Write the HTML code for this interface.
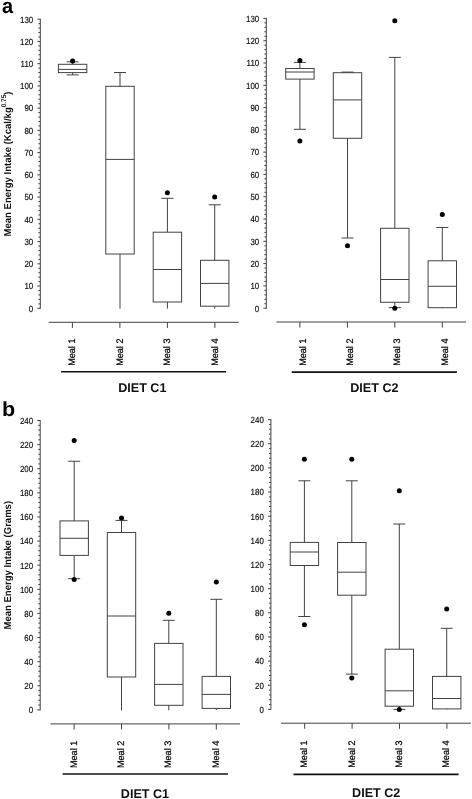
<!DOCTYPE html>
<html><head><meta charset="utf-8"><style>
html,body{margin:0;padding:0;background:#fff;}
body{width:472px;height:799px;overflow:hidden;}
svg{display:block;font-family:"Liberation Sans", sans-serif;will-change:transform;text-rendering:geometricPrecision;}
line,rect{stroke:#424242;stroke-width:1.0;fill:none;}
rect{fill:none;}
circle{fill:#000;stroke:none;}
.brk{stroke:#111;stroke-width:1.6;}
text{fill:#111;}
.tl{font-size:8.8px;text-anchor:end;fill:#111;stroke:#111;stroke-width:0.18px;}
.ml{font-size:9.5px;fill:#000;stroke:#000;stroke-width:0.22px;}
.diet{font-size:12.6px;font-weight:bold;}
.pl{font-size:20px;font-weight:bold;fill:#000;}
.yt{font-size:10px;font-weight:bold;}
.sup{font-size:6.8px;}
</style></head><body>
<svg width="472" height="799" viewBox="0 0 472 799">
<line x1="40.3" y1="18.7" x2="40.3" y2="308.8"/>
<line x1="37.4" y1="308.3" x2="40.3" y2="308.3"/>
<text class="tl" transform="translate(33.2,311.6) scale(0.9,1)">0</text>
<line x1="38.4" y1="303.85" x2="40.3" y2="303.85"/>
<line x1="38.4" y1="299.4" x2="40.3" y2="299.4"/>
<line x1="38.4" y1="294.96" x2="40.3" y2="294.96"/>
<line x1="38.4" y1="290.51" x2="40.3" y2="290.51"/>
<line x1="37.4" y1="286.06" x2="40.3" y2="286.06"/>
<text class="tl" transform="translate(33.2,289.36) scale(0.9,1)">10</text>
<line x1="38.4" y1="281.61" x2="40.3" y2="281.61"/>
<line x1="38.4" y1="277.17" x2="40.3" y2="277.17"/>
<line x1="38.4" y1="272.72" x2="40.3" y2="272.72"/>
<line x1="38.4" y1="268.27" x2="40.3" y2="268.27"/>
<line x1="37.4" y1="263.82" x2="40.3" y2="263.82"/>
<text class="tl" transform="translate(33.2,267.12) scale(0.9,1)">20</text>
<line x1="38.4" y1="259.38" x2="40.3" y2="259.38"/>
<line x1="38.4" y1="254.93" x2="40.3" y2="254.93"/>
<line x1="38.4" y1="250.48" x2="40.3" y2="250.48"/>
<line x1="38.4" y1="246.03" x2="40.3" y2="246.03"/>
<line x1="37.4" y1="241.58" x2="40.3" y2="241.58"/>
<text class="tl" transform="translate(33.2,244.88) scale(0.9,1)">30</text>
<line x1="38.4" y1="237.14" x2="40.3" y2="237.14"/>
<line x1="38.4" y1="232.69" x2="40.3" y2="232.69"/>
<line x1="38.4" y1="228.24" x2="40.3" y2="228.24"/>
<line x1="38.4" y1="223.79" x2="40.3" y2="223.79"/>
<line x1="37.4" y1="219.35" x2="40.3" y2="219.35"/>
<text class="tl" transform="translate(33.2,222.65) scale(0.9,1)">40</text>
<line x1="38.4" y1="214.9" x2="40.3" y2="214.9"/>
<line x1="38.4" y1="210.45" x2="40.3" y2="210.45"/>
<line x1="38.4" y1="206" x2="40.3" y2="206"/>
<line x1="38.4" y1="201.56" x2="40.3" y2="201.56"/>
<line x1="37.4" y1="197.11" x2="40.3" y2="197.11"/>
<text class="tl" transform="translate(33.2,200.41) scale(0.9,1)">50</text>
<line x1="38.4" y1="192.66" x2="40.3" y2="192.66"/>
<line x1="38.4" y1="188.21" x2="40.3" y2="188.21"/>
<line x1="38.4" y1="183.76" x2="40.3" y2="183.76"/>
<line x1="38.4" y1="179.32" x2="40.3" y2="179.32"/>
<line x1="37.4" y1="174.87" x2="40.3" y2="174.87"/>
<text class="tl" transform="translate(33.2,178.17) scale(0.9,1)">60</text>
<line x1="38.4" y1="170.42" x2="40.3" y2="170.42"/>
<line x1="38.4" y1="165.97" x2="40.3" y2="165.97"/>
<line x1="38.4" y1="161.53" x2="40.3" y2="161.53"/>
<line x1="38.4" y1="157.08" x2="40.3" y2="157.08"/>
<line x1="37.4" y1="152.63" x2="40.3" y2="152.63"/>
<text class="tl" transform="translate(33.2,155.93) scale(0.9,1)">70</text>
<line x1="38.4" y1="148.18" x2="40.3" y2="148.18"/>
<line x1="38.4" y1="143.74" x2="40.3" y2="143.74"/>
<line x1="38.4" y1="139.29" x2="40.3" y2="139.29"/>
<line x1="38.4" y1="134.84" x2="40.3" y2="134.84"/>
<line x1="37.4" y1="130.39" x2="40.3" y2="130.39"/>
<text class="tl" transform="translate(33.2,133.69) scale(0.9,1)">80</text>
<line x1="38.4" y1="125.94" x2="40.3" y2="125.94"/>
<line x1="38.4" y1="121.5" x2="40.3" y2="121.5"/>
<line x1="38.4" y1="117.05" x2="40.3" y2="117.05"/>
<line x1="38.4" y1="112.6" x2="40.3" y2="112.6"/>
<line x1="37.4" y1="108.15" x2="40.3" y2="108.15"/>
<text class="tl" transform="translate(33.2,111.45) scale(0.9,1)">90</text>
<line x1="38.4" y1="103.71" x2="40.3" y2="103.71"/>
<line x1="38.4" y1="99.26" x2="40.3" y2="99.26"/>
<line x1="38.4" y1="94.81" x2="40.3" y2="94.81"/>
<line x1="38.4" y1="90.36" x2="40.3" y2="90.36"/>
<line x1="37.4" y1="85.92" x2="40.3" y2="85.92"/>
<text class="tl" transform="translate(33.2,89.22) scale(0.9,1)">100</text>
<line x1="38.4" y1="81.47" x2="40.3" y2="81.47"/>
<line x1="38.4" y1="77.02" x2="40.3" y2="77.02"/>
<line x1="38.4" y1="72.57" x2="40.3" y2="72.57"/>
<line x1="38.4" y1="68.12" x2="40.3" y2="68.12"/>
<line x1="37.4" y1="63.68" x2="40.3" y2="63.68"/>
<text class="tl" transform="translate(33.2,66.98) scale(0.9,1)">110</text>
<line x1="38.4" y1="59.23" x2="40.3" y2="59.23"/>
<line x1="38.4" y1="54.78" x2="40.3" y2="54.78"/>
<line x1="38.4" y1="50.33" x2="40.3" y2="50.33"/>
<line x1="38.4" y1="45.89" x2="40.3" y2="45.89"/>
<line x1="37.4" y1="41.44" x2="40.3" y2="41.44"/>
<text class="tl" transform="translate(33.2,44.74) scale(0.9,1)">120</text>
<line x1="38.4" y1="36.99" x2="40.3" y2="36.99"/>
<line x1="38.4" y1="32.54" x2="40.3" y2="32.54"/>
<line x1="38.4" y1="28.1" x2="40.3" y2="28.1"/>
<line x1="38.4" y1="23.65" x2="40.3" y2="23.65"/>
<line x1="37.4" y1="19.2" x2="40.3" y2="19.2"/>
<text class="tl" transform="translate(33.2,22.5) scale(0.9,1)">130</text>
<line x1="48.6" y1="322.3" x2="238.7" y2="322.3"/>
<line x1="72.4" y1="322.3" x2="72.4" y2="327.9"/>
<text class="ml" transform="translate(75.15,365.8) rotate(-90) scale(0.955,1)">Meal 1</text>
<line x1="119.9" y1="322.3" x2="119.9" y2="327.9"/>
<text class="ml" transform="translate(122.65,365.8) rotate(-90) scale(0.955,1)">Meal 2</text>
<line x1="167.4" y1="322.3" x2="167.4" y2="327.9"/>
<text class="ml" transform="translate(170.15,365.8) rotate(-90) scale(0.955,1)">Meal 3</text>
<line x1="214.9" y1="322.3" x2="214.9" y2="327.9"/>
<text class="ml" transform="translate(217.65,365.8) rotate(-90) scale(0.955,1)">Meal 4</text>
<rect x="58.4" y="64.3" width="28.4" height="8.3"/>
<line x1="58.4" y1="69.4" x2="86.8" y2="69.4"/>
<line x1="72.6" y1="61.8" x2="72.6" y2="64.3"/>
<line x1="66.6" y1="61.8" x2="78.6" y2="61.8"/>
<line x1="72.6" y1="72.6" x2="72.6" y2="74.9"/>
<line x1="66.6" y1="74.9" x2="78.6" y2="74.9"/>
<circle cx="72.6" cy="60.9" r="2.5"/>
<rect x="105.8" y="86.3" width="28.4" height="167.7"/>
<line x1="105.8" y1="159.4" x2="134.2" y2="159.4"/>
<line x1="120" y1="72.5" x2="120" y2="86.3"/>
<line x1="114" y1="72.5" x2="126" y2="72.5"/>
<line x1="120" y1="254" x2="120" y2="308.6"/>
<rect x="153.2" y="232.2" width="28.4" height="69.8"/>
<line x1="153.2" y1="269.5" x2="181.6" y2="269.5"/>
<line x1="167.4" y1="198.3" x2="167.4" y2="232.2"/>
<line x1="161.4" y1="198.3" x2="173.4" y2="198.3"/>
<line x1="167.4" y1="302" x2="167.4" y2="308.6"/>
<circle cx="167.4" cy="192.8" r="2.5"/>
<rect x="200.5" y="260.3" width="28.4" height="45.9"/>
<line x1="200.5" y1="283.4" x2="228.9" y2="283.4"/>
<line x1="214.7" y1="204.8" x2="214.7" y2="260.3"/>
<line x1="208.7" y1="204.8" x2="220.7" y2="204.8"/>
<line x1="214.7" y1="306.2" x2="214.7" y2="308.6"/>
<circle cx="214.7" cy="197.1" r="2.5"/>
<line class="brk" x1="61.1" y1="371.8" x2="226.1" y2="371.8"/>
<text class="diet" x="118.15" y="392.2">DIET C1</text>
<line x1="266.3" y1="17.9" x2="266.3" y2="308.7"/>
<line x1="263.4" y1="308.2" x2="266.3" y2="308.2"/>
<text class="tl" transform="translate(259.2,311.5) scale(0.9,1)">0</text>
<line x1="264.4" y1="303.74" x2="266.3" y2="303.74"/>
<line x1="264.4" y1="299.28" x2="266.3" y2="299.28"/>
<line x1="264.4" y1="294.82" x2="266.3" y2="294.82"/>
<line x1="264.4" y1="290.37" x2="266.3" y2="290.37"/>
<line x1="263.4" y1="285.91" x2="266.3" y2="285.91"/>
<text class="tl" transform="translate(259.2,289.21) scale(0.9,1)">10</text>
<line x1="264.4" y1="281.45" x2="266.3" y2="281.45"/>
<line x1="264.4" y1="276.99" x2="266.3" y2="276.99"/>
<line x1="264.4" y1="272.53" x2="266.3" y2="272.53"/>
<line x1="264.4" y1="268.07" x2="266.3" y2="268.07"/>
<line x1="263.4" y1="263.62" x2="266.3" y2="263.62"/>
<text class="tl" transform="translate(259.2,266.92) scale(0.9,1)">20</text>
<line x1="264.4" y1="259.16" x2="266.3" y2="259.16"/>
<line x1="264.4" y1="254.7" x2="266.3" y2="254.7"/>
<line x1="264.4" y1="250.24" x2="266.3" y2="250.24"/>
<line x1="264.4" y1="245.78" x2="266.3" y2="245.78"/>
<line x1="263.4" y1="241.32" x2="266.3" y2="241.32"/>
<text class="tl" transform="translate(259.2,244.62) scale(0.9,1)">30</text>
<line x1="264.4" y1="236.86" x2="266.3" y2="236.86"/>
<line x1="264.4" y1="232.41" x2="266.3" y2="232.41"/>
<line x1="264.4" y1="227.95" x2="266.3" y2="227.95"/>
<line x1="264.4" y1="223.49" x2="266.3" y2="223.49"/>
<line x1="263.4" y1="219.03" x2="266.3" y2="219.03"/>
<text class="tl" transform="translate(259.2,222.33) scale(0.9,1)">40</text>
<line x1="264.4" y1="214.57" x2="266.3" y2="214.57"/>
<line x1="264.4" y1="210.11" x2="266.3" y2="210.11"/>
<line x1="264.4" y1="205.66" x2="266.3" y2="205.66"/>
<line x1="264.4" y1="201.2" x2="266.3" y2="201.2"/>
<line x1="263.4" y1="196.74" x2="266.3" y2="196.74"/>
<text class="tl" transform="translate(259.2,200.04) scale(0.9,1)">50</text>
<line x1="264.4" y1="192.28" x2="266.3" y2="192.28"/>
<line x1="264.4" y1="187.82" x2="266.3" y2="187.82"/>
<line x1="264.4" y1="183.36" x2="266.3" y2="183.36"/>
<line x1="264.4" y1="178.9" x2="266.3" y2="178.9"/>
<line x1="263.4" y1="174.45" x2="266.3" y2="174.45"/>
<text class="tl" transform="translate(259.2,177.75) scale(0.9,1)">60</text>
<line x1="264.4" y1="169.99" x2="266.3" y2="169.99"/>
<line x1="264.4" y1="165.53" x2="266.3" y2="165.53"/>
<line x1="264.4" y1="161.07" x2="266.3" y2="161.07"/>
<line x1="264.4" y1="156.61" x2="266.3" y2="156.61"/>
<line x1="263.4" y1="152.15" x2="266.3" y2="152.15"/>
<text class="tl" transform="translate(259.2,155.45) scale(0.9,1)">70</text>
<line x1="264.4" y1="147.7" x2="266.3" y2="147.7"/>
<line x1="264.4" y1="143.24" x2="266.3" y2="143.24"/>
<line x1="264.4" y1="138.78" x2="266.3" y2="138.78"/>
<line x1="264.4" y1="134.32" x2="266.3" y2="134.32"/>
<line x1="263.4" y1="129.86" x2="266.3" y2="129.86"/>
<text class="tl" transform="translate(259.2,133.16) scale(0.9,1)">80</text>
<line x1="264.4" y1="125.4" x2="266.3" y2="125.4"/>
<line x1="264.4" y1="120.94" x2="266.3" y2="120.94"/>
<line x1="264.4" y1="116.49" x2="266.3" y2="116.49"/>
<line x1="264.4" y1="112.03" x2="266.3" y2="112.03"/>
<line x1="263.4" y1="107.57" x2="266.3" y2="107.57"/>
<text class="tl" transform="translate(259.2,110.87) scale(0.9,1)">90</text>
<line x1="264.4" y1="103.11" x2="266.3" y2="103.11"/>
<line x1="264.4" y1="98.65" x2="266.3" y2="98.65"/>
<line x1="264.4" y1="94.19" x2="266.3" y2="94.19"/>
<line x1="264.4" y1="89.74" x2="266.3" y2="89.74"/>
<line x1="263.4" y1="85.28" x2="266.3" y2="85.28"/>
<text class="tl" transform="translate(259.2,88.58) scale(0.9,1)">100</text>
<line x1="264.4" y1="80.82" x2="266.3" y2="80.82"/>
<line x1="264.4" y1="76.36" x2="266.3" y2="76.36"/>
<line x1="264.4" y1="71.9" x2="266.3" y2="71.9"/>
<line x1="264.4" y1="67.44" x2="266.3" y2="67.44"/>
<line x1="263.4" y1="62.98" x2="266.3" y2="62.98"/>
<text class="tl" transform="translate(259.2,66.28) scale(0.9,1)">110</text>
<line x1="264.4" y1="58.53" x2="266.3" y2="58.53"/>
<line x1="264.4" y1="54.07" x2="266.3" y2="54.07"/>
<line x1="264.4" y1="49.61" x2="266.3" y2="49.61"/>
<line x1="264.4" y1="45.15" x2="266.3" y2="45.15"/>
<line x1="263.4" y1="40.69" x2="266.3" y2="40.69"/>
<text class="tl" transform="translate(259.2,43.99) scale(0.9,1)">120</text>
<line x1="264.4" y1="36.23" x2="266.3" y2="36.23"/>
<line x1="264.4" y1="31.78" x2="266.3" y2="31.78"/>
<line x1="264.4" y1="27.32" x2="266.3" y2="27.32"/>
<line x1="264.4" y1="22.86" x2="266.3" y2="22.86"/>
<line x1="263.4" y1="18.4" x2="266.3" y2="18.4"/>
<text class="tl" transform="translate(259.2,21.7) scale(0.9,1)">130</text>
<line x1="276.3" y1="322" x2="466" y2="322"/>
<line x1="299.9" y1="322" x2="299.9" y2="327.6"/>
<text class="ml" transform="translate(305.5,365.8) rotate(-90) scale(0.955,1)">Meal 1</text>
<line x1="347.4" y1="322" x2="347.4" y2="327.6"/>
<text class="ml" transform="translate(353,365.8) rotate(-90) scale(0.955,1)">Meal 2</text>
<line x1="394.8" y1="322" x2="394.8" y2="327.6"/>
<text class="ml" transform="translate(400.4,365.8) rotate(-90) scale(0.955,1)">Meal 3</text>
<line x1="442.3" y1="322" x2="442.3" y2="327.6"/>
<text class="ml" transform="translate(447.9,365.8) rotate(-90) scale(0.955,1)">Meal 4</text>
<rect x="285.7" y="68.5" width="28.4" height="10.6"/>
<line x1="285.7" y1="72" x2="314.1" y2="72"/>
<line x1="299.9" y1="62.4" x2="299.9" y2="68.5"/>
<line x1="293.9" y1="62.4" x2="305.9" y2="62.4"/>
<line x1="299.9" y1="79.1" x2="299.9" y2="129.3"/>
<line x1="293.9" y1="129.3" x2="305.9" y2="129.3"/>
<circle cx="299.9" cy="60.6" r="2.5"/>
<circle cx="299.9" cy="141.1" r="2.5"/>
<rect x="333.3" y="72.7" width="28.4" height="65.6"/>
<line x1="333.3" y1="99.9" x2="361.7" y2="99.9"/>
<line x1="347.5" y1="72.1" x2="347.5" y2="72.7"/>
<line x1="341.5" y1="72.1" x2="353.5" y2="72.1"/>
<line x1="347.5" y1="138.3" x2="347.5" y2="238"/>
<line x1="341.5" y1="238" x2="353.5" y2="238"/>
<circle cx="347.5" cy="245.7" r="2.5"/>
<rect x="380.6" y="228.3" width="28.4" height="74"/>
<line x1="380.6" y1="279.5" x2="409" y2="279.5"/>
<line x1="394.8" y1="57.4" x2="394.8" y2="228.3"/>
<line x1="388.8" y1="57.4" x2="400.8" y2="57.4"/>
<line x1="394.8" y1="302.3" x2="394.8" y2="307.6"/>
<line x1="388.8" y1="307.6" x2="400.8" y2="307.6"/>
<circle cx="394.8" cy="20.7" r="2.5"/>
<circle cx="394.8" cy="308.3" r="2.5"/>
<rect x="428.1" y="260.8" width="28.4" height="46.9"/>
<line x1="428.1" y1="286.3" x2="456.5" y2="286.3"/>
<line x1="442.3" y1="227.5" x2="442.3" y2="260.8"/>
<line x1="436.3" y1="227.5" x2="448.3" y2="227.5"/>
<line x1="442.3" y1="307.7" x2="442.3" y2="308.2"/>
<circle cx="442.3" cy="214.6" r="2.5"/>
<line class="brk" x1="291.7" y1="372.1" x2="456.9" y2="372.1"/>
<text class="diet" x="350.25" y="392.2">DIET C2</text>
<line x1="40.2" y1="420" x2="40.2" y2="710.4"/>
<line x1="37.3" y1="709.9" x2="40.2" y2="709.9"/>
<text class="tl" transform="translate(33.1,713.2) scale(0.9,1)">0</text>
<line x1="38.3" y1="705.08" x2="40.2" y2="705.08"/>
<line x1="38.3" y1="700.25" x2="40.2" y2="700.25"/>
<line x1="38.3" y1="695.43" x2="40.2" y2="695.43"/>
<line x1="38.3" y1="690.61" x2="40.2" y2="690.61"/>
<line x1="37.3" y1="685.78" x2="40.2" y2="685.78"/>
<text class="tl" transform="translate(33.1,689.08) scale(0.9,1)">20</text>
<line x1="38.3" y1="680.96" x2="40.2" y2="680.96"/>
<line x1="38.3" y1="676.14" x2="40.2" y2="676.14"/>
<line x1="38.3" y1="671.31" x2="40.2" y2="671.31"/>
<line x1="38.3" y1="666.49" x2="40.2" y2="666.49"/>
<line x1="37.3" y1="661.67" x2="40.2" y2="661.67"/>
<text class="tl" transform="translate(33.1,664.97) scale(0.9,1)">40</text>
<line x1="38.3" y1="656.84" x2="40.2" y2="656.84"/>
<line x1="38.3" y1="652.02" x2="40.2" y2="652.02"/>
<line x1="38.3" y1="647.2" x2="40.2" y2="647.2"/>
<line x1="38.3" y1="642.37" x2="40.2" y2="642.37"/>
<line x1="37.3" y1="637.55" x2="40.2" y2="637.55"/>
<text class="tl" transform="translate(33.1,640.85) scale(0.9,1)">60</text>
<line x1="38.3" y1="632.73" x2="40.2" y2="632.73"/>
<line x1="38.3" y1="627.9" x2="40.2" y2="627.9"/>
<line x1="38.3" y1="623.08" x2="40.2" y2="623.08"/>
<line x1="38.3" y1="618.26" x2="40.2" y2="618.26"/>
<line x1="37.3" y1="613.43" x2="40.2" y2="613.43"/>
<text class="tl" transform="translate(33.1,616.73) scale(0.9,1)">80</text>
<line x1="38.3" y1="608.61" x2="40.2" y2="608.61"/>
<line x1="38.3" y1="603.79" x2="40.2" y2="603.79"/>
<line x1="38.3" y1="598.96" x2="40.2" y2="598.96"/>
<line x1="38.3" y1="594.14" x2="40.2" y2="594.14"/>
<line x1="37.3" y1="589.32" x2="40.2" y2="589.32"/>
<text class="tl" transform="translate(33.1,592.62) scale(0.9,1)">100</text>
<line x1="38.3" y1="584.49" x2="40.2" y2="584.49"/>
<line x1="38.3" y1="579.67" x2="40.2" y2="579.67"/>
<line x1="38.3" y1="574.85" x2="40.2" y2="574.85"/>
<line x1="38.3" y1="570.02" x2="40.2" y2="570.02"/>
<line x1="37.3" y1="565.2" x2="40.2" y2="565.2"/>
<text class="tl" transform="translate(33.1,568.5) scale(0.9,1)">120</text>
<line x1="38.3" y1="560.38" x2="40.2" y2="560.38"/>
<line x1="38.3" y1="555.55" x2="40.2" y2="555.55"/>
<line x1="38.3" y1="550.73" x2="40.2" y2="550.73"/>
<line x1="38.3" y1="545.91" x2="40.2" y2="545.91"/>
<line x1="37.3" y1="541.08" x2="40.2" y2="541.08"/>
<text class="tl" transform="translate(33.1,544.38) scale(0.9,1)">140</text>
<line x1="38.3" y1="536.26" x2="40.2" y2="536.26"/>
<line x1="38.3" y1="531.44" x2="40.2" y2="531.44"/>
<line x1="38.3" y1="526.61" x2="40.2" y2="526.61"/>
<line x1="38.3" y1="521.79" x2="40.2" y2="521.79"/>
<line x1="37.3" y1="516.97" x2="40.2" y2="516.97"/>
<text class="tl" transform="translate(33.1,520.27) scale(0.9,1)">160</text>
<line x1="38.3" y1="512.14" x2="40.2" y2="512.14"/>
<line x1="38.3" y1="507.32" x2="40.2" y2="507.32"/>
<line x1="38.3" y1="502.5" x2="40.2" y2="502.5"/>
<line x1="38.3" y1="497.67" x2="40.2" y2="497.67"/>
<line x1="37.3" y1="492.85" x2="40.2" y2="492.85"/>
<text class="tl" transform="translate(33.1,496.15) scale(0.9,1)">180</text>
<line x1="38.3" y1="488.03" x2="40.2" y2="488.03"/>
<line x1="38.3" y1="483.2" x2="40.2" y2="483.2"/>
<line x1="38.3" y1="478.38" x2="40.2" y2="478.38"/>
<line x1="38.3" y1="473.56" x2="40.2" y2="473.56"/>
<line x1="37.3" y1="468.73" x2="40.2" y2="468.73"/>
<text class="tl" transform="translate(33.1,472.03) scale(0.9,1)">200</text>
<line x1="38.3" y1="463.91" x2="40.2" y2="463.91"/>
<line x1="38.3" y1="459.09" x2="40.2" y2="459.09"/>
<line x1="38.3" y1="454.26" x2="40.2" y2="454.26"/>
<line x1="38.3" y1="449.44" x2="40.2" y2="449.44"/>
<line x1="37.3" y1="444.62" x2="40.2" y2="444.62"/>
<text class="tl" transform="translate(33.1,447.92) scale(0.9,1)">220</text>
<line x1="38.3" y1="439.79" x2="40.2" y2="439.79"/>
<line x1="38.3" y1="434.97" x2="40.2" y2="434.97"/>
<line x1="38.3" y1="430.15" x2="40.2" y2="430.15"/>
<line x1="38.3" y1="425.32" x2="40.2" y2="425.32"/>
<line x1="37.3" y1="420.5" x2="40.2" y2="420.5"/>
<text class="tl" transform="translate(33.1,423.8) scale(0.9,1)">240</text>
<line x1="50.4" y1="723.9" x2="240" y2="723.9"/>
<line x1="74.1" y1="723.9" x2="74.1" y2="729.5"/>
<text class="ml" transform="translate(76.6,768) rotate(-90) scale(0.955,1)">Meal 1</text>
<line x1="121.5" y1="723.9" x2="121.5" y2="729.5"/>
<text class="ml" transform="translate(124,768) rotate(-90) scale(0.955,1)">Meal 2</text>
<line x1="168.9" y1="723.9" x2="168.9" y2="729.5"/>
<text class="ml" transform="translate(171.4,768) rotate(-90) scale(0.955,1)">Meal 3</text>
<line x1="216.3" y1="723.9" x2="216.3" y2="729.5"/>
<text class="ml" transform="translate(218.8,768) rotate(-90) scale(0.955,1)">Meal 4</text>
<rect x="60" y="520.9" width="28.4" height="34.5"/>
<line x1="60" y1="538.3" x2="88.4" y2="538.3"/>
<line x1="74.2" y1="461.25" x2="74.2" y2="520.9"/>
<line x1="68.2" y1="461.25" x2="80.2" y2="461.25"/>
<line x1="74.2" y1="555.4" x2="74.2" y2="578.7"/>
<line x1="68.2" y1="578.7" x2="80.2" y2="578.7"/>
<circle cx="74.2" cy="440.6" r="2.5"/>
<circle cx="74.2" cy="579.6" r="2.5"/>
<rect x="107.3" y="532.5" width="28.4" height="144.5"/>
<line x1="107.3" y1="616" x2="135.7" y2="616"/>
<line x1="121.5" y1="520.4" x2="121.5" y2="532.5"/>
<line x1="115.5" y1="520.4" x2="127.5" y2="520.4"/>
<line x1="121.5" y1="677" x2="121.5" y2="710.4"/>
<circle cx="121.5" cy="518" r="2.5"/>
<rect x="154.6" y="643.4" width="28.4" height="61.9"/>
<line x1="154.6" y1="684.4" x2="183" y2="684.4"/>
<line x1="168.8" y1="620.3" x2="168.8" y2="643.4"/>
<line x1="162.8" y1="620.3" x2="174.8" y2="620.3"/>
<line x1="168.8" y1="705.3" x2="168.8" y2="710.3"/>
<circle cx="168.8" cy="613.2" r="2.5"/>
<rect x="202.1" y="676.4" width="28.4" height="32"/>
<line x1="202.1" y1="694.4" x2="230.5" y2="694.4"/>
<line x1="216.3" y1="599.3" x2="216.3" y2="676.4"/>
<line x1="210.3" y1="599.3" x2="222.3" y2="599.3"/>
<line x1="216.3" y1="708.4" x2="216.3" y2="710"/>
<circle cx="216.3" cy="582" r="2.5"/>
<line class="brk" x1="62.6" y1="774" x2="227.9" y2="774"/>
<text class="diet" x="120.85" y="797.5">DIET C1</text>
<line x1="270.9" y1="419.1" x2="270.9" y2="709.9"/>
<line x1="268" y1="709.4" x2="270.9" y2="709.4"/>
<text class="tl" transform="translate(263.8,712.7) scale(0.9,1)">0</text>
<line x1="269" y1="704.57" x2="270.9" y2="704.57"/>
<line x1="269" y1="699.74" x2="270.9" y2="699.74"/>
<line x1="269" y1="694.91" x2="270.9" y2="694.91"/>
<line x1="269" y1="690.08" x2="270.9" y2="690.08"/>
<line x1="268" y1="685.25" x2="270.9" y2="685.25"/>
<text class="tl" transform="translate(263.8,688.55) scale(0.9,1)">20</text>
<line x1="269" y1="680.42" x2="270.9" y2="680.42"/>
<line x1="269" y1="675.59" x2="270.9" y2="675.59"/>
<line x1="269" y1="670.76" x2="270.9" y2="670.76"/>
<line x1="269" y1="665.93" x2="270.9" y2="665.93"/>
<line x1="268" y1="661.1" x2="270.9" y2="661.1"/>
<text class="tl" transform="translate(263.8,664.4) scale(0.9,1)">40</text>
<line x1="269" y1="656.27" x2="270.9" y2="656.27"/>
<line x1="269" y1="651.44" x2="270.9" y2="651.44"/>
<line x1="269" y1="646.61" x2="270.9" y2="646.61"/>
<line x1="269" y1="641.78" x2="270.9" y2="641.78"/>
<line x1="268" y1="636.95" x2="270.9" y2="636.95"/>
<text class="tl" transform="translate(263.8,640.25) scale(0.9,1)">60</text>
<line x1="269" y1="632.12" x2="270.9" y2="632.12"/>
<line x1="269" y1="627.29" x2="270.9" y2="627.29"/>
<line x1="269" y1="622.46" x2="270.9" y2="622.46"/>
<line x1="269" y1="617.63" x2="270.9" y2="617.63"/>
<line x1="268" y1="612.8" x2="270.9" y2="612.8"/>
<text class="tl" transform="translate(263.8,616.1) scale(0.9,1)">80</text>
<line x1="269" y1="607.97" x2="270.9" y2="607.97"/>
<line x1="269" y1="603.14" x2="270.9" y2="603.14"/>
<line x1="269" y1="598.31" x2="270.9" y2="598.31"/>
<line x1="269" y1="593.48" x2="270.9" y2="593.48"/>
<line x1="268" y1="588.65" x2="270.9" y2="588.65"/>
<text class="tl" transform="translate(263.8,591.95) scale(0.9,1)">100</text>
<line x1="269" y1="583.82" x2="270.9" y2="583.82"/>
<line x1="269" y1="578.99" x2="270.9" y2="578.99"/>
<line x1="269" y1="574.16" x2="270.9" y2="574.16"/>
<line x1="269" y1="569.33" x2="270.9" y2="569.33"/>
<line x1="268" y1="564.5" x2="270.9" y2="564.5"/>
<text class="tl" transform="translate(263.8,567.8) scale(0.9,1)">120</text>
<line x1="269" y1="559.67" x2="270.9" y2="559.67"/>
<line x1="269" y1="554.84" x2="270.9" y2="554.84"/>
<line x1="269" y1="550.01" x2="270.9" y2="550.01"/>
<line x1="269" y1="545.18" x2="270.9" y2="545.18"/>
<line x1="268" y1="540.35" x2="270.9" y2="540.35"/>
<text class="tl" transform="translate(263.8,543.65) scale(0.9,1)">140</text>
<line x1="269" y1="535.52" x2="270.9" y2="535.52"/>
<line x1="269" y1="530.69" x2="270.9" y2="530.69"/>
<line x1="269" y1="525.86" x2="270.9" y2="525.86"/>
<line x1="269" y1="521.03" x2="270.9" y2="521.03"/>
<line x1="268" y1="516.2" x2="270.9" y2="516.2"/>
<text class="tl" transform="translate(263.8,519.5) scale(0.9,1)">160</text>
<line x1="269" y1="511.37" x2="270.9" y2="511.37"/>
<line x1="269" y1="506.54" x2="270.9" y2="506.54"/>
<line x1="269" y1="501.71" x2="270.9" y2="501.71"/>
<line x1="269" y1="496.88" x2="270.9" y2="496.88"/>
<line x1="268" y1="492.05" x2="270.9" y2="492.05"/>
<text class="tl" transform="translate(263.8,495.35) scale(0.9,1)">180</text>
<line x1="269" y1="487.22" x2="270.9" y2="487.22"/>
<line x1="269" y1="482.39" x2="270.9" y2="482.39"/>
<line x1="269" y1="477.56" x2="270.9" y2="477.56"/>
<line x1="269" y1="472.73" x2="270.9" y2="472.73"/>
<line x1="268" y1="467.9" x2="270.9" y2="467.9"/>
<text class="tl" transform="translate(263.8,471.2) scale(0.9,1)">200</text>
<line x1="269" y1="463.07" x2="270.9" y2="463.07"/>
<line x1="269" y1="458.24" x2="270.9" y2="458.24"/>
<line x1="269" y1="453.41" x2="270.9" y2="453.41"/>
<line x1="269" y1="448.58" x2="270.9" y2="448.58"/>
<line x1="268" y1="443.75" x2="270.9" y2="443.75"/>
<text class="tl" transform="translate(263.8,447.05) scale(0.9,1)">220</text>
<line x1="269" y1="438.92" x2="270.9" y2="438.92"/>
<line x1="269" y1="434.09" x2="270.9" y2="434.09"/>
<line x1="269" y1="429.26" x2="270.9" y2="429.26"/>
<line x1="269" y1="424.43" x2="270.9" y2="424.43"/>
<line x1="268" y1="419.6" x2="270.9" y2="419.6"/>
<text class="tl" transform="translate(263.8,422.9) scale(0.9,1)">240</text>
<line x1="281" y1="723.2" x2="470.9" y2="723.2"/>
<line x1="304.7" y1="723.2" x2="304.7" y2="728.8"/>
<text class="ml" transform="translate(307.2,767.7) rotate(-90) scale(0.955,1)">Meal 1</text>
<line x1="352.1" y1="723.2" x2="352.1" y2="728.8"/>
<text class="ml" transform="translate(354.6,767.7) rotate(-90) scale(0.955,1)">Meal 2</text>
<line x1="399.5" y1="723.2" x2="399.5" y2="728.8"/>
<text class="ml" transform="translate(402,767.7) rotate(-90) scale(0.955,1)">Meal 3</text>
<line x1="446.9" y1="723.2" x2="446.9" y2="728.8"/>
<text class="ml" transform="translate(449.4,767.7) rotate(-90) scale(0.955,1)">Meal 4</text>
<rect x="290.2" y="542.4" width="28.4" height="23.1"/>
<line x1="290.2" y1="552" x2="318.6" y2="552"/>
<line x1="304.4" y1="480.8" x2="304.4" y2="542.4"/>
<line x1="298.4" y1="480.8" x2="310.4" y2="480.8"/>
<line x1="304.4" y1="565.5" x2="304.4" y2="616.5"/>
<line x1="298.4" y1="616.5" x2="310.4" y2="616.5"/>
<circle cx="304.4" cy="459.3" r="2.5"/>
<circle cx="304.4" cy="624.7" r="2.5"/>
<rect x="337.6" y="542.5" width="28.4" height="52.7"/>
<line x1="337.6" y1="572.2" x2="366" y2="572.2"/>
<line x1="351.8" y1="480.8" x2="351.8" y2="542.5"/>
<line x1="345.8" y1="480.8" x2="357.8" y2="480.8"/>
<line x1="351.8" y1="595.2" x2="351.8" y2="674.1"/>
<line x1="345.8" y1="674.1" x2="357.8" y2="674.1"/>
<circle cx="351.8" cy="459.3" r="2.5"/>
<circle cx="351.8" cy="678" r="2.5"/>
<rect x="385.1" y="649.2" width="28.4" height="57"/>
<line x1="385.1" y1="690.8" x2="413.5" y2="690.8"/>
<line x1="399.3" y1="524" x2="399.3" y2="649.2"/>
<line x1="393.3" y1="524" x2="405.3" y2="524"/>
<line x1="399.3" y1="706.2" x2="399.3" y2="709.4"/>
<line x1="393.3" y1="709.4" x2="405.3" y2="709.4"/>
<circle cx="399.3" cy="490.7" r="2.5"/>
<circle cx="399.3" cy="709.4" r="2.5"/>
<rect x="432.5" y="676.4" width="28.4" height="32.5"/>
<line x1="432.5" y1="698.5" x2="460.9" y2="698.5"/>
<line x1="446.7" y1="628.3" x2="446.7" y2="676.4"/>
<line x1="440.7" y1="628.3" x2="452.7" y2="628.3"/>
<line x1="446.7" y1="708.9" x2="446.7" y2="709.4"/>
<circle cx="446.7" cy="609.1" r="2.5"/>
<line class="brk" x1="293.5" y1="774.4" x2="458.6" y2="774.4"/>
<text class="diet" x="352.05" y="797.1">DIET C2</text>
<text class="pl" transform="translate(2.1,12.7) scale(1.0,1.05)">a</text>
<text class="pl" transform="translate(2,415.8) scale(1.08,1.02)">b</text>
<text class="yt" transform="translate(11.1,236.4) rotate(-90) scale(0.952,1)">Mean Energy Intake (Kcal/kg<tspan class="sup" dy="-5.2">0.75</tspan><tspan dy="5.2">)</tspan></text>
<text class="yt" transform="translate(11.1,629.5) rotate(-90) scale(0.952,1)">Mean Energy Intake (Grams)</text>
</svg>
</body></html>
